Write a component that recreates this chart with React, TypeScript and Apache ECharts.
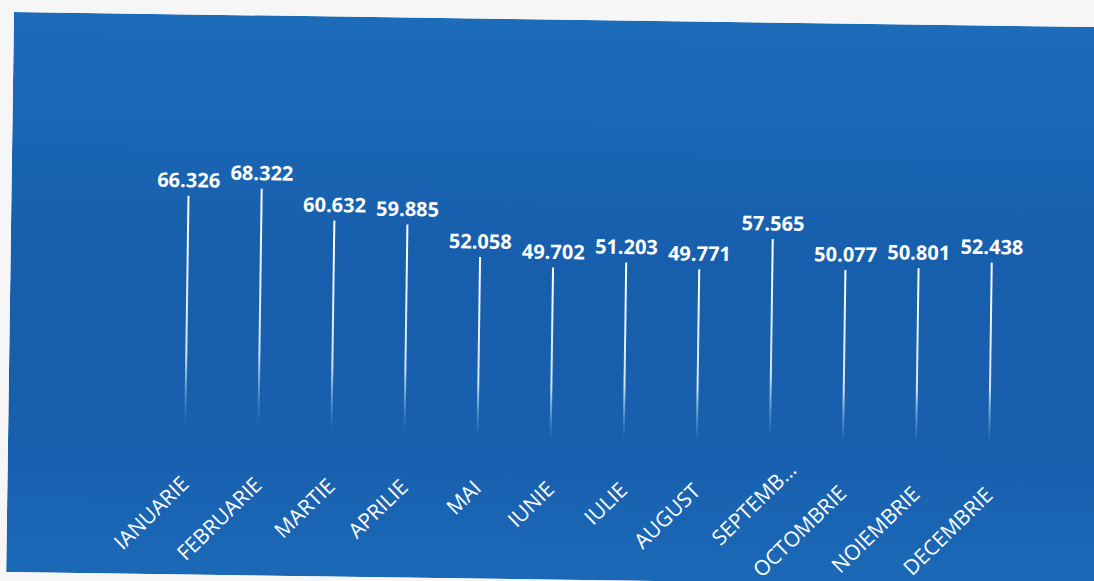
import React, { useEffect, useRef } from "react";
import * as echarts from "echarts";

const months = [
  "IANUARIE", "FEBRUARIE", "MARTIE", "APRILIE", "MAI", "IUNIE",
  "IULIE", "AUGUST", "SEPTEMBRIE", "OCTOMBRIE", "NOIEMBRIE", "DECEMBRIE",
];
const tickLabels = [
  "IANUARIE", "FEBRUARIE", "MARTIE", "APRILIE", "MAI", "IUNIE",
  "IULIE", "AUGUST", "SEPTEMB...", "OCTOMBRIE", "NOIEMBRIE", "DECEMBRIE",
];
const values = [66326, 68322, 60632, 59885, 52058, 49702, 51203, 49771, 57565, 50077, 50801, 52438];

const fmt = (v: number) => Math.floor(v / 1000) + "." + String(v % 1000).padStart(3, "0");

export default function App() {
  const ref = useRef<HTMLDivElement>(null);
  useEffect(() => {
    if (!ref.current) return;
    const chart = echarts.init(ref.current, null, { renderer: "svg" });
    chart.setOption({
      animation: false,
      backgroundColor: new echarts.graphic.LinearGradient(0, 0, 0, 1, [
        { offset: 0, color: "#1c6cb9" },
        { offset: 0.45, color: "#175eac" },
        { offset: 0.75, color: "#185fae" },
        { offset: 1, color: "#1b69b6" },
      ]),
      grid: { left: 140.5, right: 82.3, top: 126.4, bottom: 106 },
      xAxis: {
        type: "category",
        data: months.map((m, i) =>
          tickLabels[i] !== m
            ? { value: m, textStyle: { padding: [0, -32, 0, 0] } }
            : m
        ),
        axisLine: { show: false },
        axisTick: { show: false },
        axisLabel: {
          interval: 0,
          rotate: 45,
          margin: 18,
          color: "#ffffff",
          fontFamily: "Open Sans",
          fontSize: 21,
          formatter: (_v: string, i: number) => tickLabels[i],
        },
      },
      yAxis: {
        type: "value",
        min: 0,
        max: 80000,
        show: false,
        splitLine: { show: false },
      },
      series: [
        {
          type: "bar",
          data: values,
          barWidth: 2,
          itemStyle: {
            color: new echarts.graphic.LinearGradient(0, 0, 0, 1, [
              { offset: 0, color: "rgba(255,255,255,1)" },
              { offset: 0.6, color: "rgba(240,250,255,0.85)" },
              { offset: 0.86, color: "rgba(120,210,235,0)" },
              { offset: 1, color: "rgba(120,210,235,0)" },
            ]),
          },
          label: {
            show: true,
            position: "top",
            distance: 6,
            color: "#ffffff",
            fontFamily: "Open Sans",
            fontWeight: 700,
            fontSize: 20,
            formatter: (p: any) => fmt(p.value),
          },
        },
      ],
    });
    return () => chart.dispose();
  }, []);
  return (
    <div
      style={{
        position: "fixed",
        left: 0,
        top: 0,
        width: 1094,
        height: 581,
        background: "#f6f6f7",
        overflow: "hidden",
      }}
    >
      <div
        ref={ref}
        style={{
          position: "absolute",
          left: 14,
          top: 12,
          width: 1100,
          height: 560,
          transform: "rotate(0.8deg)",
          transformOrigin: "0 0",
        }}
      />
    </div>
  );
}
